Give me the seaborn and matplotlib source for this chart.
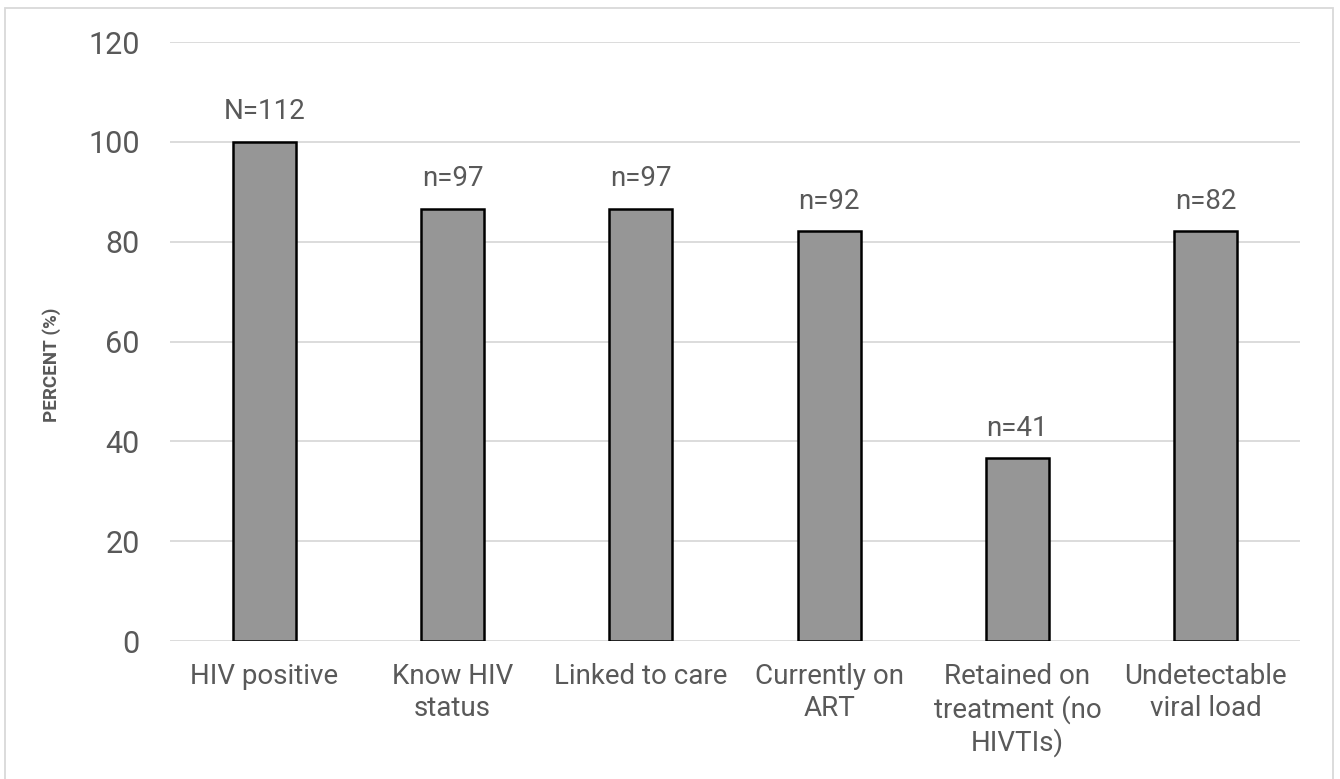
import matplotlib
matplotlib.use("Agg")
import matplotlib.pyplot as plt
import seaborn as sns
import pandas as pd
from matplotlib.patches import Rectangle

# Dados
categorias = ["HIV positive", "Know HIV\nstatus", "Linked to care", "Currently on\nART",
              "Retained on\ntreatment (no\nHIVTIs)", "Undetectable\nviral load"]
percentuais = [100.0, 86.6, 86.6, 82.1, 36.6, 82.1]
rotulos_n = ["N=112", "n=97", "n=97", "n=92", "n=41", "n=82"]

sns.set_style("white")
plt.rcParams['font.family'] = ['Roboto', 'DejaVu Sans']

TXT = '#595959'

fig = plt.figure(figsize=(13.4, 7.79), dpi=100)
ax = fig.add_axes([0.127, 0.177, 0.843, 0.769])

df = pd.DataFrame({'categoria': categorias, 'pct': percentuais})
sns.barplot(data=df, x='categoria', y='pct', color='#969696', saturation=1,
            width=0.335, edgecolor='black', linewidth=1.8, ax=ax, zorder=3)

for i, (v, lab) in enumerate(zip(percentuais, rotulos_n)):
    ax.annotate(lab, (i, v), xytext=(0, 12), textcoords='offset points',
                ha='center', va='bottom', fontsize=20, color=TXT)

ax.set_ylim(0, 120)
ax.set_yticks(range(0, 121, 20))
ax.set_xlim(-0.5, 5.5)
ax.yaxis.grid(True, color='#d9d9d9', linewidth=1.3, zorder=0)
ax.set_axisbelow(True)
for s in ax.spines.values():
    s.set_visible(False)
ax.tick_params(axis='both', length=0)
ax.tick_params(axis='x', labelsize=20, labelcolor=TXT, pad=16)
ax.tick_params(axis='y', labelsize=22, labelcolor=TXT, pad=22)
ax.set_xlabel('')
ax.set_ylabel('PERCENT (%)', fontsize=13.5, fontweight='bold', color=TXT)
ax.yaxis.set_label_coords(-0.097, 0.462)

# moldura externa
fig.patches.append(Rectangle((0.004, -0.02), 0.991, 1.01, transform=fig.transFigure,
                             fill=False, edgecolor='#d9d9d9', linewidth=1.3))

fig.savefig('out.png', dpi=100)
plt.close()
